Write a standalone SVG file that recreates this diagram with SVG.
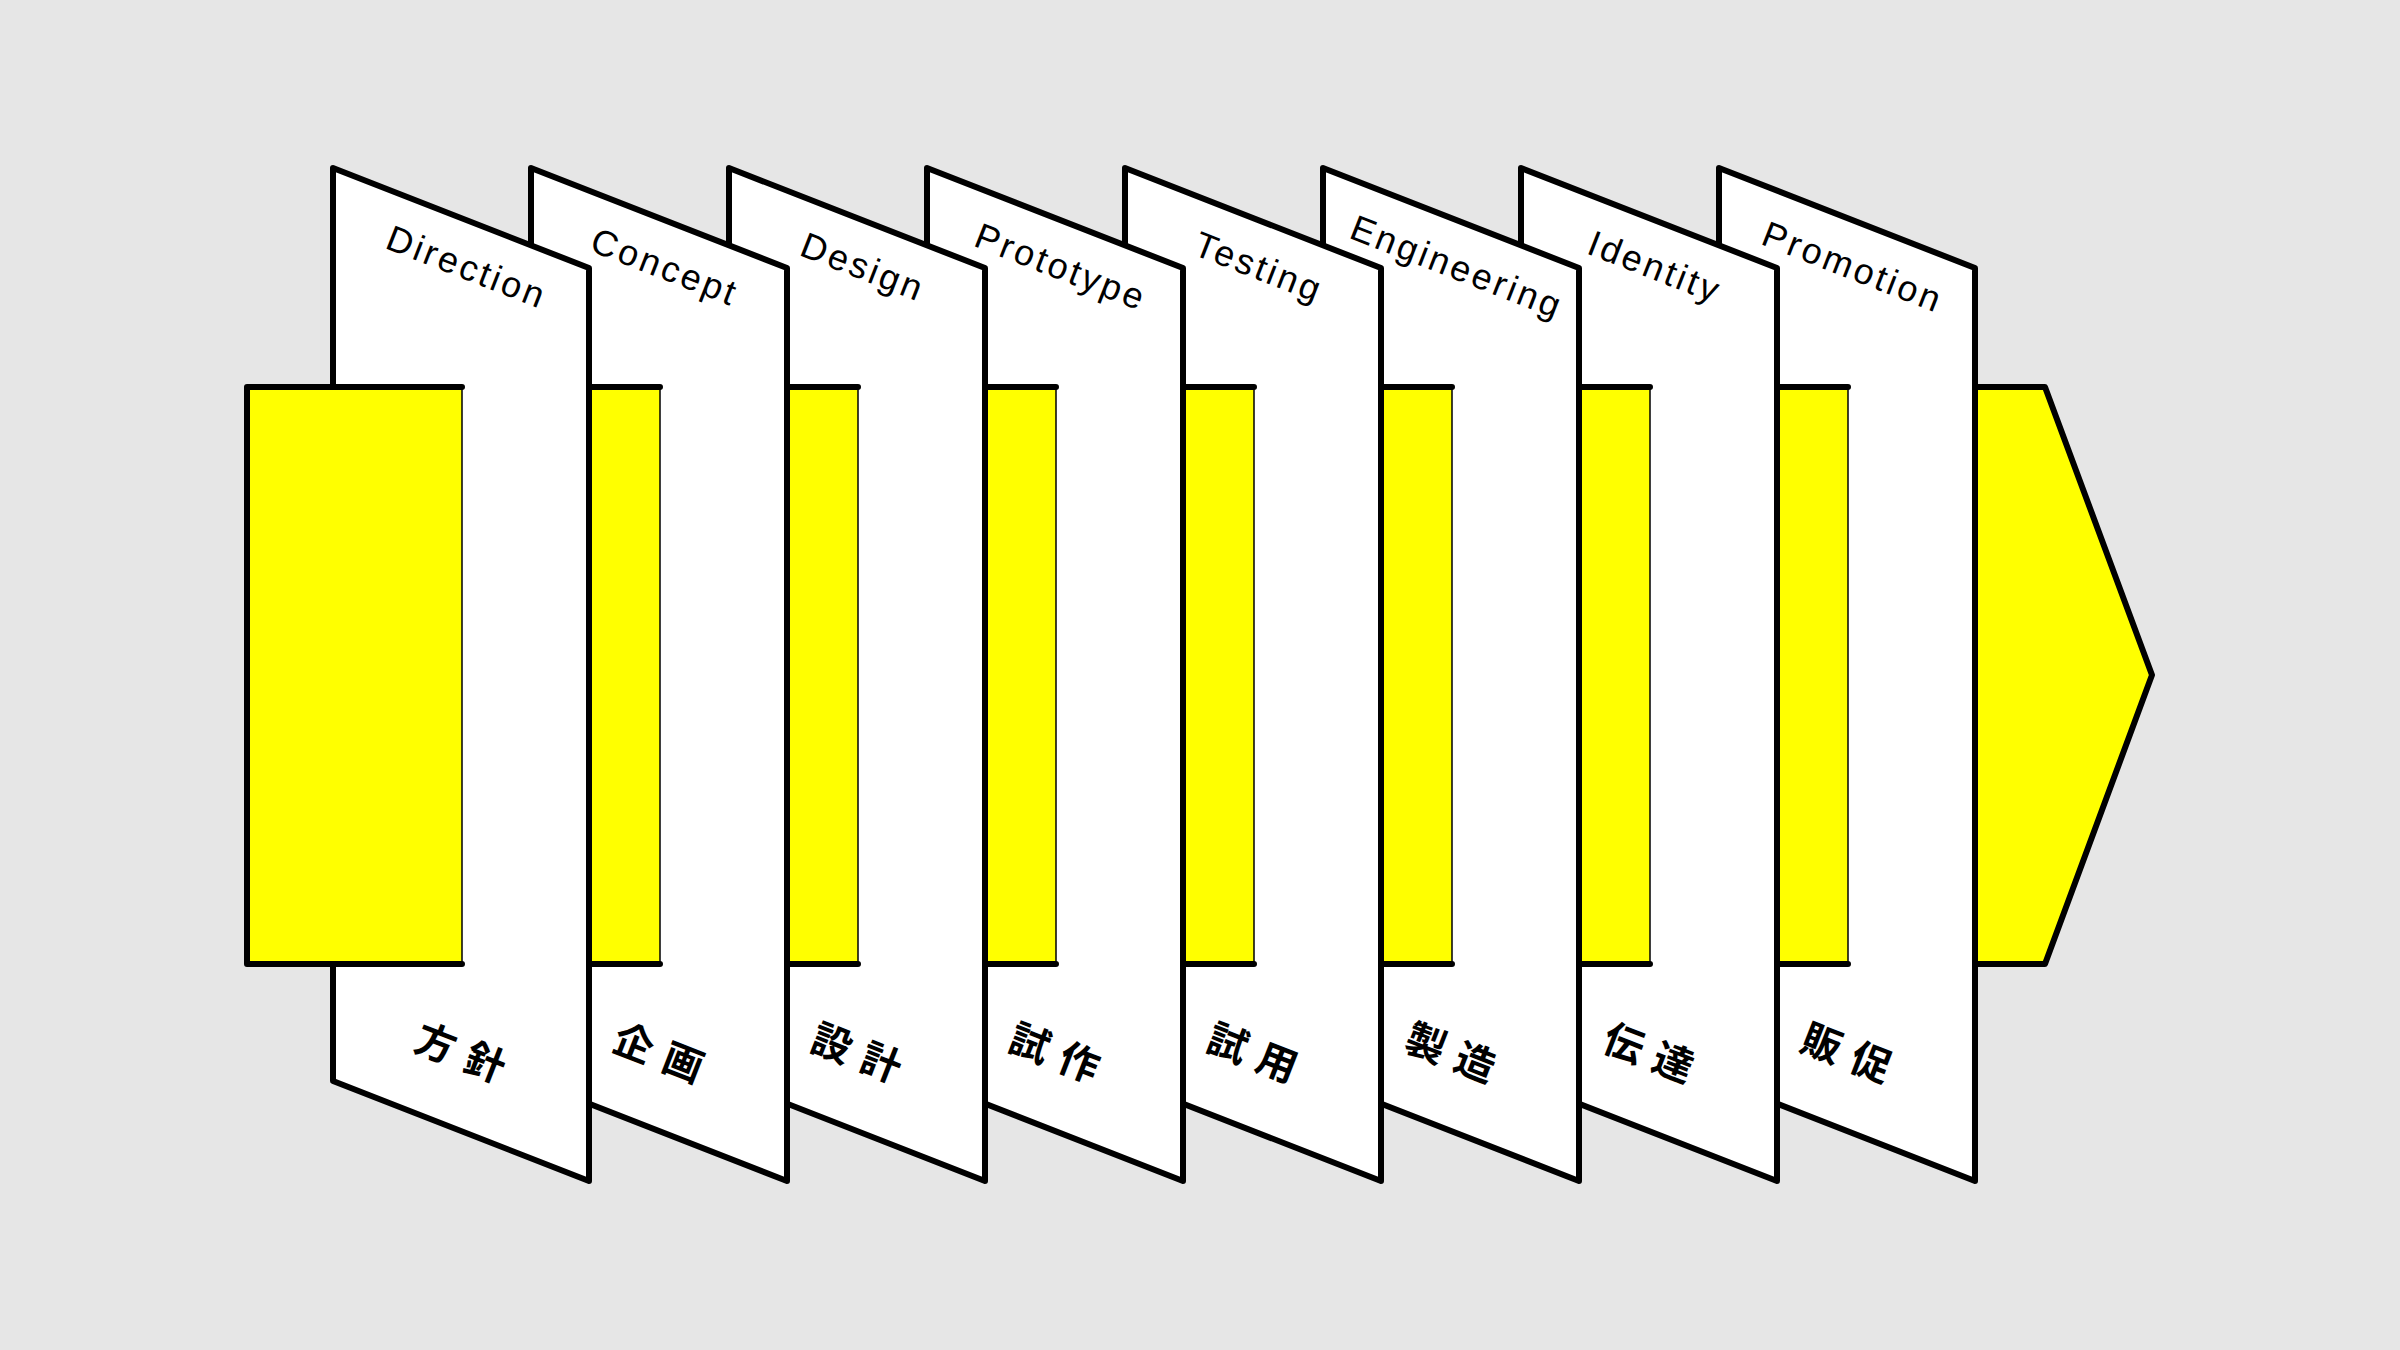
<svg xmlns="http://www.w3.org/2000/svg" width="2400" height="1350" viewBox="0 0 2400 1350">
  <style>
    .card { fill: #ffffff; stroke: #000000; stroke-width: 6; stroke-linejoin: round; }
    .band { fill: #ffff00; stroke: #000000; stroke-width: 1.5; }
    .edge { fill: none; stroke: #000000; stroke-width: 6; stroke-linecap: round; stroke-linejoin: round; }
    .head { fill: #ffff00; stroke: #000000; stroke-width: 6; stroke-linejoin: round; }
    .en { font-family: "Liberation Sans", Arial, Helvetica, sans-serif; font-size: 36px; letter-spacing: 3px; fill: #000000; text-anchor: middle; }
    .jp { font-family: "Noto Sans CJK JP", "Noto Sans CJK SC", sans-serif; font-size: 40px; font-weight: 700; letter-spacing: 13px; fill: #000000; text-anchor: middle; dominant-baseline: central; }
  </style>
  <rect x="0" y="0" width="2400" height="1350" fill="#e6e6e6"/>

  <g id="connectors">
    <polygon class="head" points="1975,387 2045,387 2152,675 2045,964 1975,964"/>
  </g>

  <g id="card-promotion">
    <polygon class="card" points="1719,168 1975,268 1975,1181 1719,1081"/>
    <text class="en" transform="translate(1848.5,278.5) rotate(21.34)">Promotion</text>
    <text class="jp" transform="translate(1853.5,1053) rotate(21.34)">販促</text>
    <rect class="band" x="1719" y="387" width="129" height="577"/>
    <path class="edge" d="M1719,387 H1848 M1719,964 H1848"/>
  </g>

  <g id="card-identity">
    <polygon class="card" points="1521,168 1777,268 1777,1181 1521,1081"/>
    <text class="en" transform="translate(1650.5,278.5) rotate(21.34)">Identity</text>
    <text class="jp" transform="translate(1655.5,1053) rotate(21.34)">伝達</text>
    <rect class="band" x="1521" y="387" width="129" height="577"/>
    <path class="edge" d="M1521,387 H1650 M1521,964 H1650"/>
  </g>

  <g id="card-engineering">
    <polygon class="card" points="1323,168 1579,268 1579,1181 1323,1081"/>
    <text class="en" transform="translate(1452.5,278.5) rotate(21.34)">Engineering</text>
    <text class="jp" transform="translate(1457.5,1053) rotate(21.34)">製造</text>
    <rect class="band" x="1323" y="387" width="129" height="577"/>
    <path class="edge" d="M1323,387 H1452 M1323,964 H1452"/>
  </g>

  <g id="card-testing">
    <polygon class="card" points="1125,168 1381,268 1381,1181 1125,1081"/>
    <text class="en" transform="translate(1254.5,278.5) rotate(21.34)">Testing</text>
    <text class="jp" transform="translate(1259.5,1053) rotate(21.34)">試用</text>
    <rect class="band" x="1125" y="387" width="129" height="577"/>
    <path class="edge" d="M1125,387 H1254 M1125,964 H1254"/>
  </g>

  <g id="card-prototype">
    <polygon class="card" points="927,168 1183,268 1183,1181 927,1081"/>
    <text class="en" transform="translate(1056.5,278.5) rotate(21.34)">Prototype</text>
    <text class="jp" transform="translate(1061.5,1053) rotate(21.34)">試作</text>
    <rect class="band" x="927" y="387" width="129" height="577"/>
    <path class="edge" d="M927,387 H1056 M927,964 H1056"/>
  </g>

  <g id="card-design">
    <polygon class="card" points="729,168 985,268 985,1181 729,1081"/>
    <text class="en" transform="translate(858.5,278.5) rotate(21.34)">Design</text>
    <text class="jp" transform="translate(863.5,1053) rotate(21.34)">設計</text>
    <rect class="band" x="729" y="387" width="129" height="577"/>
    <path class="edge" d="M729,387 H858 M729,964 H858"/>
  </g>

  <g id="card-concept">
    <polygon class="card" points="531,168 787,268 787,1181 531,1081"/>
    <text class="en" transform="translate(660.5,278.5) rotate(21.34)">Concept</text>
    <text class="jp" transform="translate(665.5,1053) rotate(21.34)">企画</text>
    <rect class="band" x="531" y="387" width="129" height="577"/>
    <path class="edge" d="M531,387 H660 M531,964 H660"/>
  </g>

  <g id="card-direction">
    <polygon class="card" points="333,168 589,268 589,1181 333,1081"/>
    <text class="en" transform="translate(462.5,278.5) rotate(21.34)">Direction</text>
    <text class="jp" transform="translate(467.5,1053) rotate(21.34)">方針</text>
    <rect class="band" x="247" y="387" width="215" height="577"/>
    <path class="edge" d="M462,387 H247 V964 H462"/>
  </g>
</svg>
